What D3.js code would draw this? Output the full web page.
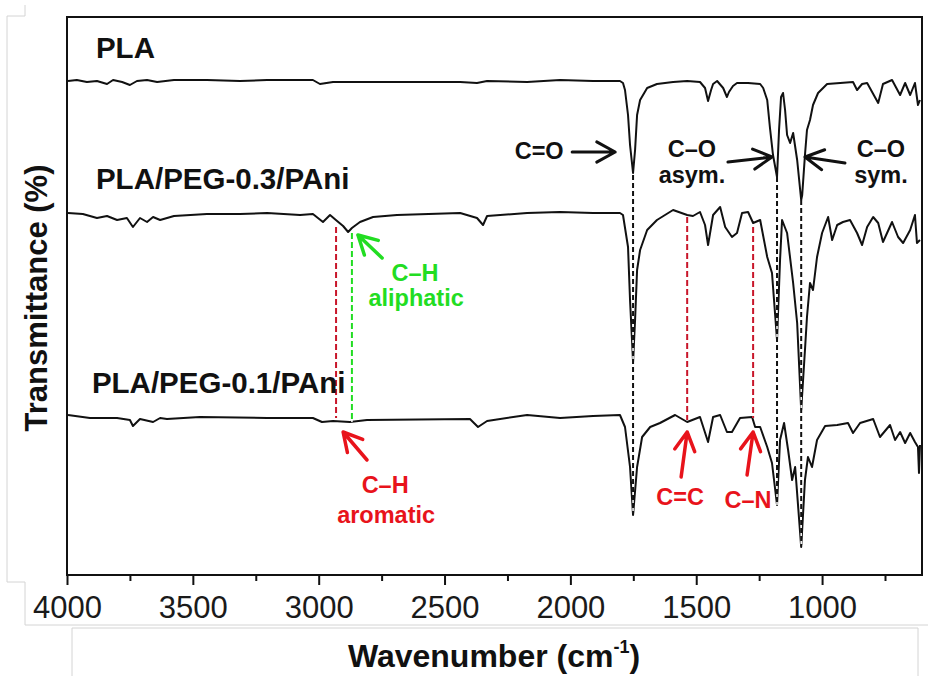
<!DOCTYPE html>
<html>
<head>
<meta charset="utf-8">
<script src="https://cdn.jsdelivr.net/npm/d3@7"></script>
<style>
body { margin: 0; background: #fff; }
svg { display: block; font-family: "Liberation Sans", Arial, sans-serif; }
</style>
</head>
<body>
<div id="chart"></div>
<script>
// FTIR spectra, [wavenumber cm-1, transmittance a.u.]
var pla = [[3996,494],[3961,495],[3921,493],[3881,494],[3841,491],[3817,495],[3781,493],[3750,490],[3722,494],[3682,495],[3642,493],[3575,495],[3444,495],[3313,494],[3205,495],[3023,495],[2995,491],[2943,493],[2808,493],[2438,493],[2371,492],[2331,494],[2172,493],[2041,495],[1910,494],[1803,494],[1791,492],[1783,485],[1771,460],[1763,430],[1751,402],[1743,425],[1735,460],[1723,475],[1695,487],[1656,491],[1592,493],[1536,494],[1485,493],[1465,487],[1453,474],[1441,485],[1433,491],[1417,494],[1393,487],[1378,478],[1370,483],[1354,489],[1338,492],[1294,492],[1246,491],[1234,487],[1218,475],[1207,447],[1195,420],[1179,398],[1171,445],[1163,478],[1155,482],[1147,465],[1139,440],[1127,432],[1115,442],[1099,415],[1083,375],[1079,380],[1068,420],[1060,445],[1048,455],[1036,470],[1016,482],[980,491],[928,492],[877,493],[861,485],[841,491],[821,492],[777,472],[758,491],[722,495],[690,480],[670,492],[650,480],[631,492],[619,470],[611,475]];

var peg03 = [[3996,362],[3937,361],[3881,357],[3841,359],[3801,355],[3762,357],[3738,348],[3710,357],[3682,353],[3658,358],[3630,355],[3575,359],[3444,361],[3313,361],[3205,362],[3074,360],[3023,361],[2983,353],[2955,360],[2927,354],[2903,349],[2883,343],[2868,347],[2836,353],[2784,358],[2689,360],[2438,362],[2371,357],[2347,350],[2331,359],[2172,362],[2041,363],[1910,362],[1803,362],[1791,360],[1771,328],[1763,275],[1751,213],[1743,255],[1735,305],[1723,325],[1695,345],[1656,355],[1592,365],[1536,360],[1513,359],[1485,363],[1465,350],[1453,330],[1433,360],[1405,368],[1385,348],[1358,338],[1338,342],[1318,362],[1294,363],[1274,352],[1246,355],[1218,318],[1199,302],[1179,235],[1167,315],[1159,355],[1139,342],[1115,292],[1099,252],[1083,165],[1068,225],[1060,258],[1048,292],[1036,285],[1020,318],[1000,342],[976,358],[960,335],[940,350],[917,353],[889,355],[861,342],[841,330],[821,348],[797,358],[777,352],[758,333],[722,353],[698,338],[678,332],[650,345],[631,360],[623,332],[611,335]];

var peg01 = [[3996,160],[3909,157],[3801,157],[3750,155],[3738,149],[3710,156],[3658,153],[3630,157],[3603,156],[3472,158],[3205,157],[3023,157],[2987,153],[2943,154],[2876,153],[2808,155],[2399,156],[2367,148],[2331,154],[2172,160],[2041,157],[1910,159],[1803,160],[1783,148],[1763,108],[1751,60],[1735,108],[1715,138],[1683,148],[1644,152],[1584,160],[1536,153],[1485,158],[1453,133],[1433,158],[1405,160],[1378,143],[1358,143],[1326,157],[1278,158],[1266,148],[1246,148],[1218,128],[1199,112],[1179,70],[1167,135],[1151,152],[1135,125],[1119,95],[1107,108],[1083,28],[1068,95],[1056,118],[1040,108],[1020,135],[988,149],[940,150],[897,152],[877,142],[849,152],[797,156],[770,138],[730,150],[710,135],[690,143],[670,132],[650,142],[631,133],[619,128],[615,102],[611,130]];

var majorTicks = [4000, 3500, 3000, 2500, 2000, 1500, 1000];
var minorTicks = [3750, 3250, 2750, 2250, 1750, 1250, 750];

var seriesNames = ["PLA", "PLA/PEG-0.3/PAni", "PLA/PEG-0.1/PAni"];
var seriesLabelPos = [[3885, 517], [3885, 386], [3901, 182]];

// band markers: wavenumber, top and bottom value, colour key
var bandLines = [[1751, 400, 62, "k"], [1179, 398, 70, "k"], [1083, 375, 30, "k"],
                 [2931, 348, 157, "r"], [2868, 342, 153, "g"], [1536, 358, 155, "r"], [1274, 348, 157, "r"]];
// arrows: tail wn, tail value, tip wn, tip value, colour key
var arrows = [[1993, 423, 1822, 423, "k"], [1374, 413, 1199, 418, "k"], [909, 412, 1068, 418, "k"],
              [2748, 317, 2844, 340, "g"], [2808, 115, 2903, 143, "r"],
              [1560, 98, 1536, 143, "r"], [1298, 100, 1274, 143, "r"]];
// labels: text, wn, value, colour key
var bandLabels = [["C=O", 2124, 416, "k"], ["C\u2013O", 1517, 418, "k"], ["asym.", 1517, 392, "k"],
                  ["C\u2013O", 766, 418, "k"], ["sym.", 766, 392, "k"],
                  ["C\u2013H", 2617, 294, "g"], ["aliphatic", 2613, 269, "g"],
                  ["C\u2013H", 2736, 82, "r"], ["aromatic", 2732, 52, "r"],
                  ["C=C", 1564, 70, "r"], ["C\u2013N", 1294, 67, "r"]];

var colours = { k: "#111", r: "#e8131b", g: "#22dd22" };
var dashColours = { k: "#111", r: "#c8162a", g: "#22dd22" };

var chartWidth = 928, chartHeight = 676;
var plotLeft = 67, plotRight = 922, plotTop = 17, plotBottom = 575;

var svg = d3.select("#chart").append("svg")
    .attr("width", chartWidth)
    .attr("height", chartHeight);

// faint grey panel edges from the original figure
svg.append("path")
    .attr("d", "M25,5V16H7V582H25V625H928")
    .attr("fill", "none").attr("stroke", "#d4d4d4").attr("stroke-width", 1);
svg.append("path")
    .attr("d", "M72,676V628H918V676")
    .attr("fill", "none").attr("stroke", "#d4d4d4").attr("stroke-width", 1);

var x = d3.scaleLinear().domain([4000, 603]).range([plotLeft, plotRight]);
var y = d3.scaleLinear().domain([0, 558]).range([plotBottom, plotTop]);

// minor ticks
svg.append("g")
    .attr("transform", "translate(0," + plotBottom + ")")
    .call(d3.axisBottom(x).tickValues(minorTicks).tickSize(6).tickFormat(""))
    .call(function(g){ g.select(".domain").remove(); })
    .selectAll("line").attr("stroke", "#111").attr("stroke-width", 2);

// major ticks + labels
var xAxis = svg.append("g")
    .attr("transform", "translate(0," + plotBottom + ")")
    .call(d3.axisBottom(x).tickValues(majorTicks).tickSize(10).tickPadding(11).tickFormat(d3.format("d")));
xAxis.select(".domain").remove();
xAxis.selectAll("line").attr("stroke", "#111").attr("stroke-width", 2);
xAxis.selectAll("text")
    .attr("fill", "#1a1a1a")
    .style("font-size", "31px")
    .style("font-family", "'Liberation Sans', Arial, sans-serif");

var line = d3.line()
    .x(function(d){ return x(d[0]); })
    .y(function(d){ return y(d[1]); });

[pla, peg03, peg01].forEach(function(s){
    svg.append("path")
        .datum(s)
        .attr("d", line)
        .attr("fill", "none")
        .attr("stroke", "#111")
        .attr("stroke-width", 2)
        .attr("stroke-linejoin", "round");
});

// dashed band lines, white underlay so gaps show over the traces
bandLines.forEach(function(b){
    svg.append("line")
        .attr("x1", x(b[0])).attr("x2", x(b[0]))
        .attr("y1", y(b[1])).attr("y2", y(b[2]))
        .attr("stroke", "#fff").attr("stroke-width", 1.5);
    svg.append("line")
        .attr("x1", x(b[0])).attr("x2", x(b[0]))
        .attr("y1", y(b[1])).attr("y2", y(b[2]))
        .attr("stroke", dashColours[b[3]])
        .attr("stroke-width", 2)
        .attr("stroke-dasharray", b[3] == "k" ? "5,3" : "6,3");
});

    function drawArrow(a){
        var x1 = x(a[0]), y1 = y(a[1]), x2 = x(a[2]), y2 = y(a[3]);
        var ang = Math.atan2(y2 - y1, x2 - x1);
        var len = 21, spread = 0.5;
        var c = colours[a[4]];
        var sw = a[4] == "k" ? 3 : 3.5;
        var p = "M" + x1 + "," + y1 + "L" + x2 + "," + y2 +
            "M" + (x2 - len * Math.cos(ang - spread)) + "," + (y2 - len * Math.sin(ang - spread)) +
            "L" + x2 + "," + y2 +
            "L" + (x2 - len * Math.cos(ang + spread)) + "," + (y2 - len * Math.sin(ang + spread));
        svg.append("path")
            .attr("d", p)
            .attr("fill", "none")
            .attr("stroke", c)
            .attr("stroke-width", sw)
            .attr("stroke-linecap", "round")
            .attr("stroke-linejoin", "round");
    }
arrows.forEach(drawArrow);

bandLabels.forEach(function(t){
    svg.append("text")
        .attr("x", x(t[1]))
        .attr("y", y(t[2]))
        .attr("text-anchor", "middle")
        .attr("fill", colours[t[3]])
        .style("font-size", "23.5px")
        .style("font-weight", "bold")
        .text(t[0]);
});

seriesNames.forEach(function(n, i){
    svg.append("text")
        .attr("x", x(seriesLabelPos[i][0]))
        .attr("y", y(seriesLabelPos[i][1]))
        .attr("fill", "#111")
        .style("font-size", "29.5px")
        .style("font-weight", "bold")
        .text(n);
});

// frame
svg.append("rect")
    .attr("x", plotLeft).attr("y", plotTop)
    .attr("width", plotRight - plotLeft).attr("height", plotBottom - plotTop)
    .attr("fill", "none")
    .attr("stroke", "#111")
    .attr("stroke-width", 2);

// axis titles
var xt = svg.append("text")
    .attr("x", 494).attr("y", 667)
    .attr("text-anchor", "middle")
    .attr("fill", "#111")
    .style("font-size", "32px")
    .style("font-weight", "bold");
xt.append("tspan").text("Wavenumber (cm");
xt.append("tspan").attr("dy", -14).style("font-size", "18px").text("-1");
xt.append("tspan").attr("dy", 14).text(")");

svg.append("text")
    .attr("transform", "translate(47,298) rotate(-90)")
    .attr("text-anchor", "middle")
    .attr("fill", "#111")
    .style("font-size", "31px")
    .style("font-weight", "bold")
    .text("Transmittance (%)");
</script>
</body>
</html>
